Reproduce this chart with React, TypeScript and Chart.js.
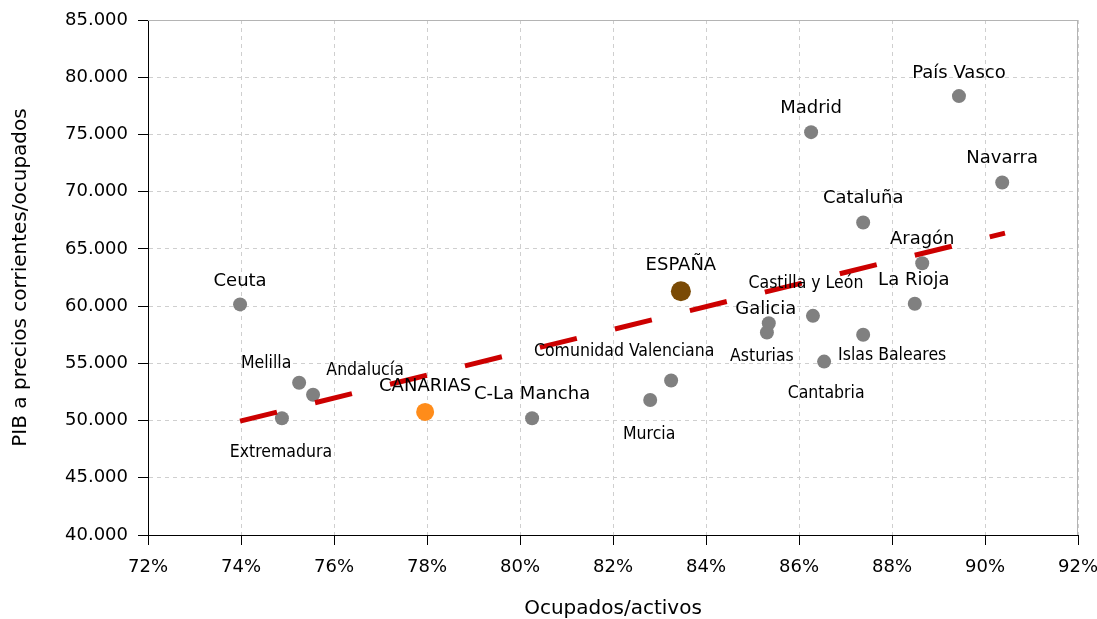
import React, { useEffect, useRef } from 'react';
import { Chart, registerables } from 'chart.js';

Chart.register(...registerables);

// ---- data ----
const regions = [
  'Ceuta', 'Extremadura', 'Melilla', 'Andalucía', 'C-La Mancha', 'Murcia',
  'Comunidad Valenciana', 'Asturias', 'Galicia', 'Castilla y León', 'Madrid',
  'Cantabria', 'Cataluña', 'Islas Baleares', 'La Rioja', 'Aragón', 'País Vasco', 'Navarra',
];
const occupiedShare = [
  73.98, 74.88, 75.25, 75.55, 80.26, 82.8,
  83.25, 85.31, 85.35, 86.3, 86.26,
  86.54, 87.38, 87.38, 88.49, 88.65, 89.44, 90.37,
];
const gdpPerWorker = [
  60150, 50200, 53300, 52250, 50200, 51800,
  53500, 57700, 58500, 59150, 75200,
  55150, 67300, 57500, 60200, 63750, 78350, 70800,
];
const canariasName = ['CANARIAS'];
const canariasX = [77.96];
const canariasY = [50750];
const spainName = ['ESPAÑA'];
const spainX = [83.46];
const spainY = [61300];
const trendX = [73.98, 90.43];
const trendY = [49950, 66380];
const xMin = 72, xMax = 92, xStep = 2;
const yMin = 40000, yMax = 85000, yStep = 5000;

// ---- label placement (style, not data) ----
const labelPlacement: Record<string, { dx: number; dy: number; big: boolean }> = {
  'Ceuta': { dx: 0, dy: -23, big: true },
  'Extremadura': { dx: -1, dy: 34, big: false },
  'Melilla': { dx: -33, dy: -19, big: false },
  'Andalucía': { dx: 52, dy: -24, big: false },
  'C-La Mancha': { dx: 0, dy: -24, big: true },
  'Murcia': { dx: -1, dy: 34, big: false },
  'Comunidad Valenciana': { dx: -47, dy: -29, big: false },
  'Asturias': { dx: -5, dy: 24, big: false },
  'Galicia': { dx: -3, dy: -14, big: true },
  'Castilla y León': { dx: -7, dy: -32, big: false },
  'Madrid': { dx: 0, dy: -24, big: true },
  'Cantabria': { dx: 2, dy: 32, big: false },
  'Cataluña': { dx: 0, dy: -24, big: true },
  'Islas Baleares': { dx: 29, dy: 21, big: false },
  'La Rioja': { dx: -1, dy: -23, big: true },
  'Aragón': { dx: 0, dy: -24, big: true },
  'País Vasco': { dx: 0, dy: -23, big: true },
  'Navarra': { dx: 0, dy: -24, big: true },
  'CANARIAS': { dx: 0, dy: -26, big: true },
  'ESPAÑA': { dx: 0, dy: -26, big: true },
};

const fmtThousands = (v: number) => {
  const n = Math.round(v);
  const th = Math.floor(n / 1000);
  const rest = String(n % 1000).padStart(3, '0');
  return `${th}.${rest}`;
};

const labelPlugin = {
  id: 'pointNames',
  afterDatasetsDraw(chart: any) {
    const ctx = chart.ctx;
    ctx.save();
    ctx.fillStyle = '#000';
    ctx.textAlign = 'center';
    ctx.textBaseline = 'middle';
    chart.data.datasets.forEach((ds: any, i: number) => {
      if (!ds.names) return;
      const meta = chart.getDatasetMeta(i);
      meta.data.forEach((el: any, j: number) => {
        const name = ds.names[j];
        const p = labelPlacement[name] || { dx: 0, dy: -24, big: true };
        ctx.font = p.big
          ? '18px "DejaVu Sans", sans-serif'
          : '17.5px "DejaVu Sans Condensed", "DejaVu Sans", sans-serif';
        ctx.fillText(name, el.x + p.dx, el.y + p.dy);
      });
    });
    ctx.restore();
  },
};

const framePlugin = {
  id: 'frame',
  afterDraw(chart: any) {
    const { ctx, chartArea } = chart;
    ctx.save();
    ctx.strokeStyle = '#b4b4b4';
    ctx.lineWidth = 1;
    ctx.beginPath();
    ctx.moveTo(chartArea.left, chartArea.top + 0.5);
    ctx.lineTo(chartArea.right, chartArea.top + 0.5);
    ctx.moveTo(chartArea.right - 0.5, chartArea.top);
    ctx.lineTo(chartArea.right - 0.5, chartArea.bottom);
    ctx.stroke();
    ctx.restore();
  },
};

export default function App() {
  const ref = useRef<HTMLCanvasElement>(null);
  useEffect(() => {
    if (!ref.current) return;
    const chart = new Chart(ref.current, {
      type: 'scatter',
      data: {
        datasets: [
          {
            type: 'line',
            label: 'Tendencia',
            data: trendX.map((x, i) => ({ x, y: trendY[i] })),
            borderColor: '#cc0000',
            borderWidth: 5,
            borderDash: [38, 39.2],
            borderCapStyle: 'butt',
            pointRadius: 0,
            fill: false,
            order: 0,
          } as any,
          {
            label: 'Regiones',
            names: regions,
            data: occupiedShare.map((x, i) => ({ x, y: gdpPerWorker[i] })),
            backgroundColor: '#808080',
            borderWidth: 0,
            pointRadius: 7,
            order: 1,
          } as any,
          {
            label: 'Canarias',
            names: canariasName,
            data: canariasX.map((x, i) => ({ x, y: canariasY[i] })),
            backgroundColor: '#ff8c1a',
            borderWidth: 0,
            pointRadius: 9,
            order: 1,
          } as any,
          {
            label: 'España',
            names: spainName,
            data: spainX.map((x, i) => ({ x, y: spainY[i] })),
            backgroundColor: '#7a4a05',
            borderWidth: 0,
            pointRadius: 10,
            order: 1,
          } as any,
        ],
      },
      options: {
        animation: false,
        responsive: false,
        layout: { padding: { top: 20, right: 19, left: 0, bottom: 0 } },
        plugins: {
          legend: { display: false },
          tooltip: { enabled: false },
        },
        scales: {
          x: {
            type: 'linear',
            min: xMin,
            max: xMax,
            afterFit: (s: any) => { s.height = 84; s.paddingRight = 0; s.paddingLeft = 0; },
            ticks: {
              stepSize: xStep,
              color: '#000',
              padding: 12,
              font: { family: '"DejaVu Sans", sans-serif', size: 18 },
              callback: (v: any) => `${v}%`,
            },
            grid: {
              color: '#cfcfcf',
              tickColor: '#000',
              tickLength: 10,
              tickBorderDash: [],
            },
            border: { color: '#000', width: 1, dash: [4, 4] },
            title: {
              display: true,
              text: 'Ocupados/activos',
              color: '#000',
              font: { family: '"DejaVu Sans", sans-serif', size: 20 },
              padding: { top: 0, bottom: -2 },
            },
          },
          y: {
            type: 'linear',
            min: yMin,
            max: yMax,
            afterFit: (s: any) => { s.width = 148; s.paddingTop = 0; s.paddingBottom = 0; },
            ticks: {
              stepSize: yStep,
              color: '#000',
              padding: 10,
              font: { family: '"DejaVu Sans", sans-serif', size: 18 },
              callback: (v: any) => fmtThousands(Number(v)),
            },
            grid: {
              color: '#cfcfcf',
              tickColor: '#000',
              tickLength: 10,
              tickBorderDash: [],
            },
            border: { color: '#000', width: 1, dash: [4, 4] },
            title: {
              display: true,
              text: 'PIB a precios corrientes/ocupados',
              color: '#000',
              font: { family: '"DejaVu Sans", sans-serif', size: 20 },
              padding: { top: 9, bottom: 0 },
            },
          },
        },
      } as any,
      plugins: [labelPlugin, framePlugin],
    });
    return () => chart.destroy();
  }, []);
  return (
    <div style={{ position: 'absolute', left: 0, top: 0, width: 1097, height: 619 }}>
      <canvas ref={ref} width={1097} height={619} />
    </div>
  );
}
